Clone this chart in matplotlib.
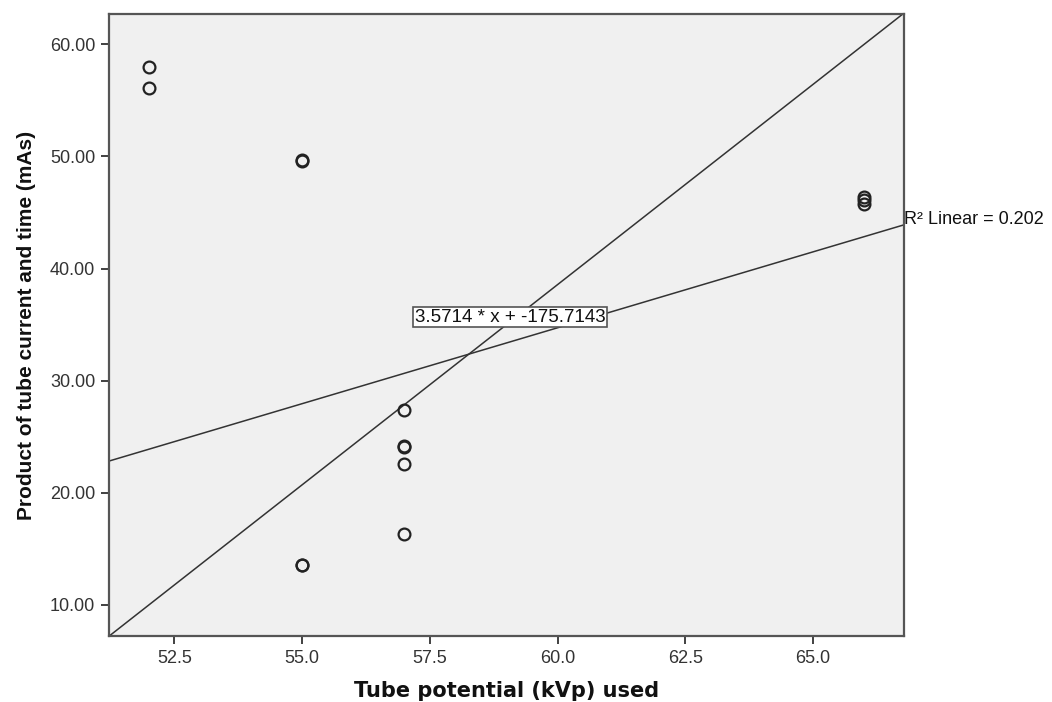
import numpy as np
import matplotlib
matplotlib.use("Agg")
import matplotlib.pyplot as plt

# tube potential (kVp) and mAs
kvp = [52, 52, 55, 55, 55, 55, 57, 57, 57, 57, 57, 66, 66, 66]
mas = [58.0, 56.1, 49.7, 49.6, 13.6, 13.6, 27.4, 24.2, 24.1, 22.6, 16.3, 46.4, 46.1, 45.8]

# fit line shown with R^2 label
fit_slope = 1.354
fit_intercept = -46.52
r2_text = "R\u00b2 Linear = 0.202"

# reference line given by the equation label
ref_slope = 3.5714
ref_intercept = -175.7143
ref_text = "3.5714 * x + -175.7143"

xlim = (51.22, 66.78)
ylim = (7.23, 62.7)
xticks = [52.5, 55.0, 57.5, 60.0, 62.5, 65.0]
yticks = [10, 20, 30, 40, 50, 60]

arial = "Liberation Sans"

fig = plt.figure(figsize=(10.52, 7.02), dpi=100)
ax = fig.add_axes([0.1036, 0.094, 0.7557, 0.886])
ax.set_facecolor("#f0f0f0")

xs = np.array(xlim)
ax.plot(xs, fit_slope * xs + fit_intercept, color="#333333", lw=1.1, zorder=2)
ax.plot(xs, ref_slope * xs + ref_intercept, color="#333333", lw=1.1, zorder=2)

ax.plot(kvp, mas, linestyle="none", marker="o", markersize=8.5,
        markerfacecolor="none", markeredgecolor="#222222",
        markeredgewidth=1.6, zorder=3)

ax.set_xlim(*xlim)
ax.set_ylim(*ylim)
ax.set_xticks(xticks)
ax.set_xticklabels(["%.1f" % t for t in xticks])
ax.set_yticks(yticks)
ax.set_yticklabels(["%.2f" % t for t in yticks])
ax.tick_params(direction="out", length=6, width=1.3, color="#333333",
               labelsize=13, labelcolor="#333333", pad=4)
for lab in ax.get_xticklabels() + ax.get_yticklabels():
    lab.set_family(arial)

for s in ax.spines.values():
    s.set_color("#555555")
    s.set_linewidth(1.6)

ax.set_xlabel("Tube potential (kVp) used", fontsize=15, fontweight="bold",
              labelpad=10, color="#111111")
ax.set_ylabel("Product of tube current and time (mAs)", fontsize=15,
              fontweight="bold", family=arial, labelpad=10,
              color="#111111")

# equation label at middle of reference line
xm = 59.07
ax.text(xm, ref_slope * xm + ref_intercept + 0.4, ref_text, ha="center",
        va="center", fontsize=13.5, family=arial, color="#111111", zorder=4,
        bbox=dict(boxstyle="square,pad=0.08", facecolor="white",
                  edgecolor="#555555", linewidth=1.2))

# R^2 label at right end of the fit line
ax.text(xlim[1], fit_slope * xlim[1] + fit_intercept + 0.5, r2_text,
        ha="left", va="center", fontsize=13, family=arial, color="#111111",
        clip_on=False)

fig.savefig("out.png", dpi=100, facecolor="white")
